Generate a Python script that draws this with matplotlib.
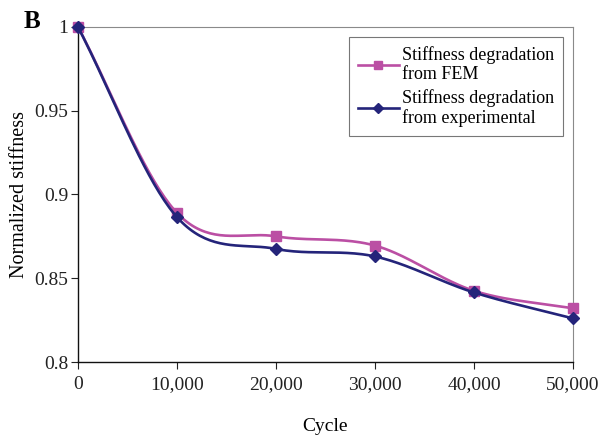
import numpy as np
import matplotlib
matplotlib.use("Agg")
from matplotlib import pyplot as plt
from matplotlib.ticker import FuncFormatter

plt.rcParams['font.family'] = ['Liberation Serif', 'DejaVu Serif']

cycles = [0, 10000, 20000, 30000, 40000, 50000]
stiffness_fem = [1.0, 0.889, 0.875, 0.8695, 0.8425, 0.832]
stiffness_exp = [1.0, 0.8865, 0.8675, 0.863, 0.8415, 0.826]

fem_color = '#BB4FA4'
exp_color = '#24247A'


def smooth(x, y, n=40):
    # Catmull-Rom spline through the points, like a spreadsheet "smoothed line"
    x = np.asarray(x, float)
    y = np.asarray(y, float)
    px = np.concatenate([[2 * x[0] - x[1]], x, [2 * x[-1] - x[-2]]])
    py = np.concatenate([[2 * y[0] - y[1]], y, [2 * y[-1] - y[-2]]])
    xs, ys = [], []
    t = np.linspace(0, 1, n)
    for i in range(1, len(px) - 2):
        for p, out in ((px, xs), (py, ys)):
            p0, p1, p2, p3 = p[i - 1], p[i], p[i + 1], p[i + 2]
            out.extend(0.5 * (2 * p1 + (-p0 + p2) * t
                              + (2 * p0 - 5 * p1 + 4 * p2 - p3) * t ** 2
                              + (-p0 + 3 * p1 - 3 * p2 + p3) * t ** 3))
    return np.array(xs), np.array(ys)


fig = plt.figure(figsize=(6.13, 4.38), dpi=100)
ax = fig.add_axes([0.1272, 0.1735, 0.8075, 0.765])

sx, sy = smooth(cycles, stiffness_fem)
ax.plot(sx, sy, color=fem_color, lw=1.9, zorder=2, clip_on=False)
ax.plot(cycles, stiffness_fem, ls='none', marker='s', ms=7.5, color=fem_color,
        zorder=3, clip_on=False)

sx, sy = smooth(cycles, stiffness_exp)
ax.plot(sx, sy, color=exp_color, lw=1.9, zorder=4, clip_on=False)
ax.plot(cycles, stiffness_exp, ls='none', marker='D', ms=6, color=exp_color,
        zorder=5, clip_on=False)

# legend proxies with the marker on the line
ax.plot([], [], color=fem_color, lw=1.9, marker='s', ms=6,
        label='Stiffness degradation\nfrom FEM')
ax.plot([], [], color=exp_color, lw=1.9, marker='D', ms=5,
        label='Stiffness degradation\nfrom experimental')

ax.set_xlim(0, 50000)
ax.set_ylim(0.8, 1.0)
ax.set_xticks(cycles)
ax.set_yticks([0.8, 0.85, 0.9, 0.95, 1.0])
ax.xaxis.set_major_formatter(FuncFormatter(lambda v, p: f'{int(v):,}'))
ax.yaxis.set_major_formatter(FuncFormatter(lambda v, p: f'{v:g}'))
ax.tick_params(direction='out', length=5, width=0.8, labelsize=14, colors='#222222')
ax.tick_params(axis='x', pad=5)
ax.tick_params(axis='y', pad=2)

for side in ('top', 'right'):
    ax.spines[side].set_color('#8a8a8a')
    ax.spines[side].set_linewidth(0.8)
for side in ('left', 'bottom'):
    ax.spines[side].set_color('#111111')
    ax.spines[side].set_linewidth(1.0)

ax.set_xlabel('Cycle', fontsize=14, labelpad=18)
ax.set_ylabel('Normalized stiffness', fontsize=14.5, labelpad=4)

leg = ax.legend(loc='upper right', bbox_to_anchor=(0.98, 0.97), fontsize=13,
                frameon=True, fancybox=False, handlelength=2.3, handletextpad=0.15,
                borderpad=0.5, labelspacing=0.3, borderaxespad=0)
leg.get_frame().set_edgecolor('#555555')
leg.get_frame().set_linewidth(0.8)

fig.text(0.039, 0.935, 'B', fontsize=18, fontweight='bold')

fig.savefig('out.png', dpi=100)
